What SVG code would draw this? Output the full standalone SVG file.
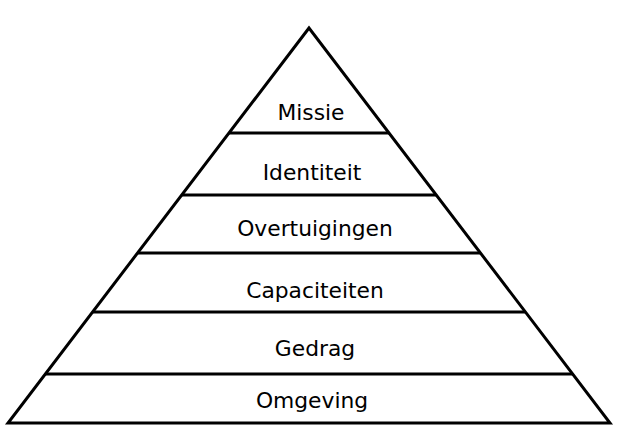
<svg xmlns="http://www.w3.org/2000/svg" width="627" height="436" viewBox="0 0 627 436">
<style>
.l{stroke:#000;stroke-width:3;fill:none}
text{font-family:"DejaVu Sans",sans-serif;font-size:21.8px;text-anchor:middle;fill:#000}
</style>
<rect width="627" height="436" fill="#fff"/>
<g id="connectors">
<polygon class="l" points="309,28 8,423 610,423" stroke-linejoin="miter"/>
<line class="l" x1="229" y1="133" x2="389" y2="133"/>
<line class="l" x1="182" y1="195" x2="436" y2="195"/>
<line class="l" x1="138" y1="253" x2="480" y2="253"/>
<line class="l" x1="93" y1="312" x2="525" y2="312"/>
<line class="l" x1="45" y1="374" x2="573" y2="374"/>
</g>
<g id="missie"><text x="311" y="120">Missie</text></g>
<g id="identiteit"><text x="312" y="180">Identiteit</text></g>
<g id="overtuigingen"><text x="315" y="236">Overtuigingen</text></g>
<g id="capaciteiten"><text x="315" y="298">Capaciteiten</text></g>
<g id="gedrag"><text x="315" y="356">Gedrag</text></g>
<g id="omgeving"><text x="312" y="408">Omgeving</text></g>
</svg>
